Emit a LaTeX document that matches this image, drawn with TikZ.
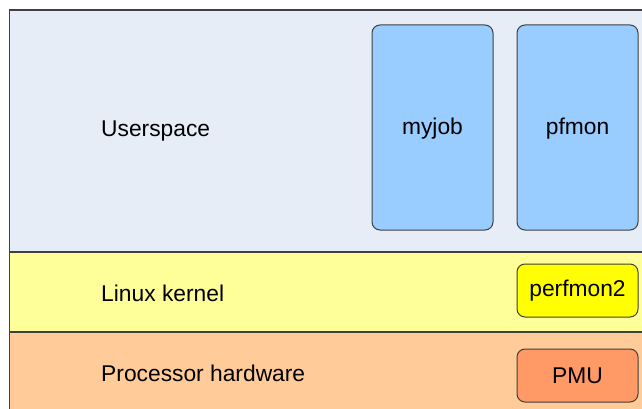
\documentclass[tikz,border=0pt]{standalone}
\usepackage{fontspec}
\setmainfont{Liberation Sans}
\definecolor{userbg}{HTML}{E7EDF7}
\definecolor{kernbg}{HTML}{FFFF99}
\definecolor{hwbg}{HTML}{FFCC99}
\definecolor{procbox}{HTML}{99CCFF}
\definecolor{pmbox}{HTML}{FFFF00}
\definecolor{pmubox}{HTML}{FF9966}
\definecolor{edge}{HTML}{404040}
\tikzset{
  layer/.style={draw=edge, line width=1.2pt},
  lbl/.style={anchor=west, font=\fontsize{22.8}{26}\selectfont, inner sep=0pt},
  proc/.style={draw=edge, line width=1pt, rounded corners=8pt, fill=procbox},
  btxt/.style={font=\fontsize{22.8}{26}\selectfont, inner sep=0pt}
}
\begin{document}
\begin{tikzpicture}[x=1pt,y=-1pt]
\useasboundingbox (0,0) rectangle (642,409);
\fill[white] (0,0) rectangle (642,409);
% layers
\path[layer, fill=userbg] (9.5,10) rectangle (660,252);
\path[layer, fill=kernbg] (9.5,252) rectangle (660,332);
\path[layer, fill=hwbg] (9.5,332) rectangle (660,430);
% labels
\node[lbl] (us) at (101,131) {Userspace};
\node[lbl] (lk) at (101,293) {Linux kernel};
\node[lbl] (ph) at (101,373) {Processor hardware};
% boxes
\path[proc] (372,25) rectangle (493,230);
\node[btxt] (myjob) at (432.5,129) {myjob};
\path[proc] (517,25) rectangle (638,230);
\node[btxt] (pfmon) at (577.5,129) {pfmon};
\path[proc, fill=pmbox] (517,264) rectangle (638,317);
\node[btxt] (perfmon) at (577.5,291) {perfmon2};
\path[proc, fill=pmubox] (517,349) rectangle (638,402);
\node[btxt] (pmu) at (577.5,376) {PMU};
\end{tikzpicture}
\end{document}
